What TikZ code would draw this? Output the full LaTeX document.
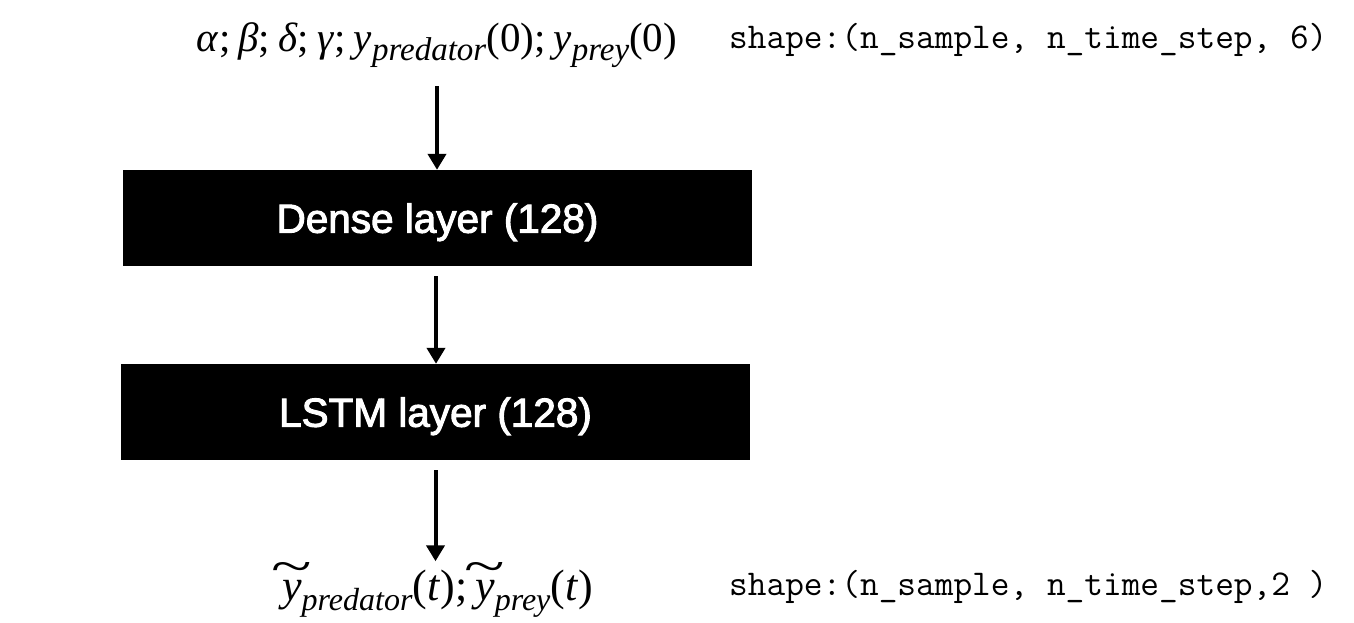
\documentclass[tikz,border=0pt]{standalone}
\usepackage{fontspec}
\usepackage{graphicx}
\setmainfont{Liberation Serif}
\newfontfamily\boxfont[FakeBold=2.5]{Liberation Sans}
\usetikzlibrary{arrows.meta,calc}
\newcommand{\mysub}[2][33]{\raisebox{-0.24em}{\fontsize{#1}{#1}\selectfont\textit{#2}}}
\newcommand{\sep}{;\hspace{8pt}}
\newcommand{\tildey}{\ooalign{\textit{y}\cr\hidewidth\raisebox{0.40em}{\scalebox{1.7}[1.1]{\textasciitilde}}\hidewidth\cr}}
\begin{document}
\begin{tikzpicture}[x=1pt,y=-1pt,
  layerbox/.style={fill=black,draw=none,minimum width=629pt,minimum height=96pt,inner sep=0pt,
     text=white,text depth=0pt,font=\boxfont\fontsize{40.5}{40.5}\selectfont},
  mathtxt/.style={inner sep=0pt,font=\fontsize{41}{41}\selectfont},
  shapetxt/.style={inner sep=0pt,anchor=base west,font=\ttfamily\fontsize{36.3}{36.3}\selectfont},
  flow/.style={line width=4pt,-{Triangle[width=18pt,length=16pt]}}]
\useasboundingbox (0,0) rectangle (1354,622);
\node[mathtxt,anchor=base] (in) at (437,51) {\textit{α}\sep\textit{β}\sep\textit{δ}\sep\textit{γ}\sep\textit{y}\mysub{predator}(0)\sep\textit{y}\mysub{prey}(0)};
\node[shapetxt] (sin) at (729,48) {shape:(n\_sample, n\_time\_step, 6)};
\node[layerbox] (dense) at (437.5,218) {Dense layer (128)};
\node[layerbox] (lstm) at (435.5,412) {LSTM layer (128)};
\node[mathtxt,anchor=base,font=\fontsize{44}{44}\selectfont] (out) at (437.5,600) {\tildey\mysub[32]{predator}(\textit{t})\sep\tildey\mysub[32]{prey}(\textit{t})};
\node[shapetxt] (sout) at (729,595) {shape:(n\_sample, n\_time\_step,2 )};
\draw[flow] (in.south |- 0,86) coordinate (a0) -- (a0 |- dense.north);
\draw[flow] ($(dense.south)+(-1.5,10)$) coordinate (a1) -- (a1 |- lstm.north);
\draw[flow] ($(lstm.south)+(0,10)$) coordinate (a2) -- ($(a2 |- out.north)+(0,-8)$);
\end{tikzpicture}
\end{document}
